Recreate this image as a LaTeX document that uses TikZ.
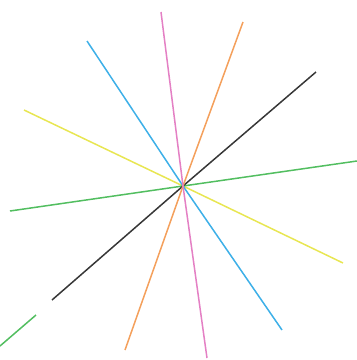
\documentclass[tikz,border=0pt]{standalone}
\definecolor{rayblack}{RGB}{55,55,55}
\definecolor{raypink}{RGB}{228,128,196}
\definecolor{rayorange}{RGB}{244,160,92}
\definecolor{rayblue}{RGB}{62,176,232}
\definecolor{rayyellow}{RGB}{232,230,82}
\definecolor{raygreen}{RGB}{82,190,96}
\begin{document}
\begin{tikzpicture}[x=1pt,y=-1pt, every path/.style={line width=1.5pt}]
  \useasboundingbox (0,0) rectangle (357,360);
  \coordinate (o) at (183,186);
  \foreach \col/\ax/\ay/\bx/\by in {rayyellow/24/110/343/263, raygreen/10/211/357/161,
      rayblue/87/41/282/330, rayblack/316/72/52/300,
      rayorange/243/22/125/350, raypink/161/12/207/358} {
    \draw[\col] (\ax,\ay) -- (o) -- (\bx,\by);
  }
  \draw[raygreen] (0,346) -- (36,315);
\end{tikzpicture}
\end{document}
